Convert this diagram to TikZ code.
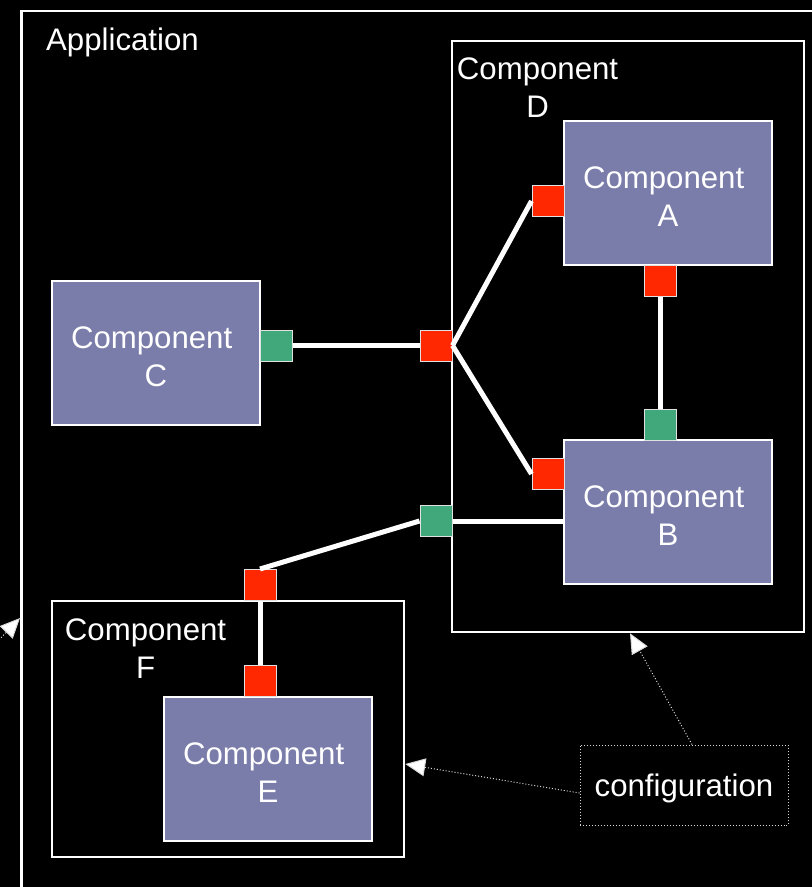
\documentclass[tikz,border=0pt]{standalone}
\usepackage{fontspec}
\setmainfont{Liberation Sans}
\usetikzlibrary{positioning}
\usetikzlibrary{arrows.meta}
\definecolor{compblue}{RGB}{122,124,170}
\definecolor{portred}{RGB}{255,40,0}
\definecolor{portgreen}{RGB}{64,168,122}
\definecolor{portedge}{RGB}{225,225,225}
\tikzset{
	every node/.style={text=white,font=\fontsize{31.3}{38}\selectfont},
	frame/.style={draw=white,line width=2.5bp,inner sep=0pt},
	comp/.style={draw=white,line width=2bp,fill=compblue,minimum width=208bp,minimum height=144bp,align=center,inner sep=0pt,
		execute at begin node={\rule{0pt}{67bp}}},
	port/.style={draw=portedge,line width=1bp,minimum width=32bp,minimum height=31bp,inner sep=0pt},
	inport/.style={port,fill=portred},
	outport/.style={port,fill=portgreen},
	wire/.style={draw=white,line width=5bp},
	lbl/.style={align=center,inner sep=0pt},
	cfgbox/.style={draw=white!85!black,dotted,line width=1bp,minimum width=208bp,minimum height=80bp,
		execute at begin node={\rule{0pt}{29bp}}},
	cfgarrow/.style={draw=white!85!black,dotted,line width=1bp,-{Triangle[length=20bp,width=18bp,fill=white]}},
}

\begin{document}
\begin{tikzpicture}[x=1bp,y=-1bp]
	\useasboundingbox (0,0) rectangle (812,887);
	\fill [black] (-20,-20) rectangle (840,910);

	% containers.....................
	\node [frame, minimum width=840bp, minimum height=900bp, anchor=north west] (app) at (20,9.5) {};
	\node [lbl, anchor=base west] (applbl) at (46,50) {Application};
	\node [frame, minimum width=352bp, minimum height=591bp] (D) at (628,336.5) {};
	\node [lbl, anchor=north west] (Dlbl) at ([shift={(6,18)}]D.north west) {Component\\D};
	\node [frame, minimum width=352bp, minimum height=256bp] (F) at (228,729) {};
	\node [lbl, anchor=north west] (Flbl) at ([shift={(14,19)}]F.north west) {Component\\F};

	% components.....................
	\node [comp] (A) at (668,193) {Component\hspace*{8.7bp}\\A};
	\node [comp] (B) at (668,512) {Component\hspace*{8.7bp}\\B};
	\node [comp] (C) at (156,353) {Component\hspace*{8.7bp}\\C};
	\node [comp] (E) at (268,769) {Component\hspace*{8.7bp}\\E};

	% ports..........................
	\node [outport] (pC) at (276,345.5) {};
	\node [inport] (pDc) at (436,345.5) {};
	\node [outport] (pDb) at (436,521) {};
	\node [inport] (pA1) at (548,201) {};
	\node [inport] (pA2) at (660,281) {};
	\node [outport] (pB2) at (660,425) {};
	\node [inport] (pB1) at (548,474) {};
	\node [inport] (pF) at (260,585) {};
	\node [inport] (pE) at (260,681) {};

	% wiring.........................
	\draw [wire] (pC) -- (pDc);
	\draw [wire] (pDc.east) -- (pA1.west);
	\draw [wire] (pDc.east) -- (pB1.west);
	\draw [wire] (pA2) -- (pB2);
	\draw [wire] (pDb.east) -- (pDb.east -| B.west);
	\draw [wire] (pDb.west) -- (pF.north);
	\draw [wire] (pF) -- (pE);

	% configuration..................
	\node [cfgbox] (cfg) at (684,785) {configuration};
	\coordinate (appcfg) at (-30,670);
	\draw [cfgarrow] ([xshift=8bp]cfg.north) -- ([xshift=2bp]D.south);
	\draw [cfgarrow] ([yshift=-8bp]cfg.west) -- ([yshift=-35bp]F.east);
	\draw [cfgarrow] (appcfg) -- (app.west |- 0,618);
\end{tikzpicture}
\end{document}
